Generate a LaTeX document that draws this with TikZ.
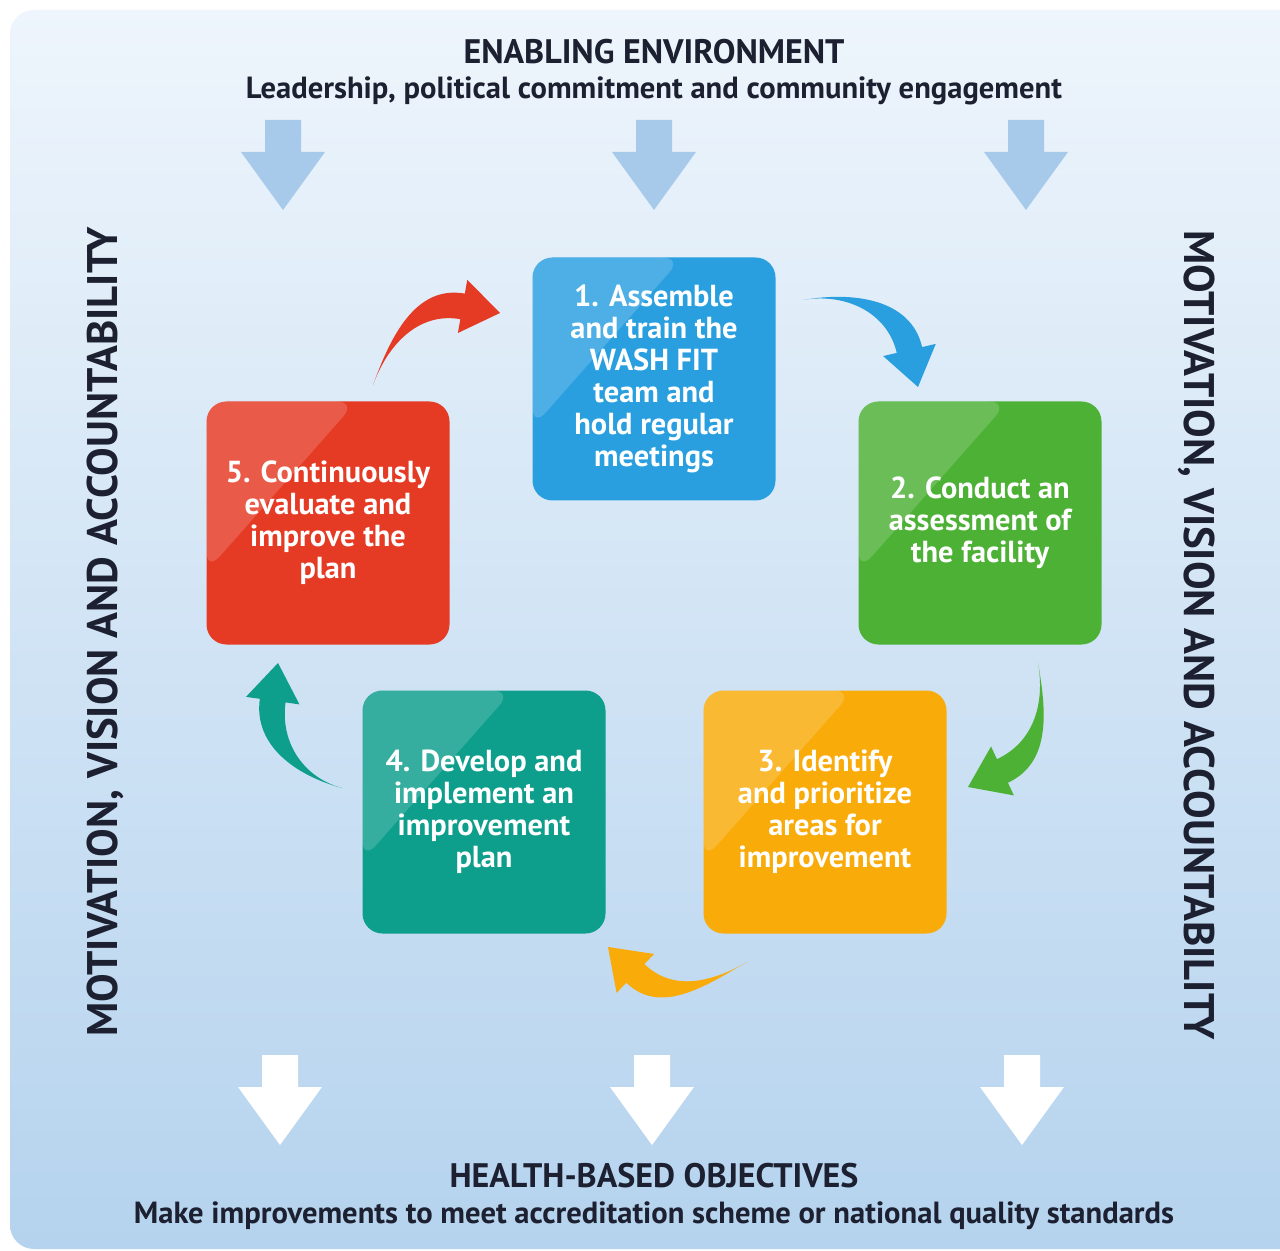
\documentclass[tikz,border=0pt]{standalone}
\usepackage{fontspec}
\setmainfont{PT Sans}
\usetikzlibrary{calc,positioning}

\definecolor{bgtop}{HTML}{EEF5FC}
\definecolor{bgbot}{HTML}{B5D3EE}
\definecolor{inArrow}{HTML}{A7CAEB}
\definecolor{darkText}{HTML}{1C2030}
\definecolor{stepBlue}{HTML}{2A9FE0}
\definecolor{stepGreen}{HTML}{4DB136}
\definecolor{stepOrange}{HTML}{F9AB09}
\definecolor{stepTeal}{HTML}{0E9E8C}
\definecolor{stepRed}{HTML}{E53A24}

\tikzset{
  stepbox/.style={rounded corners=10pt, minimum size=121.5pt, inner sep=0pt,
    align=center, text=white, font=\bfseries\fontsize{15.2}{16}\selectfont,
    path picture={\fill[white,opacity=0.17] (path picture bounding box.north west)
      -- ++(150,0) -- ++(-150,-170) -- cycle;}},
  headline/.style={text=darkText, font=\bfseries\fontsize{17}{20}\selectfont},
  subline/.style={text=darkText, font=\bfseries\fontsize{15.3}{18}\selectfont},
  sideline/.style={text=darkText, font=\bfseries\fontsize{21.4}{24}\selectfont}
}

% tapered curved arrow: colour, tail, out angle, head direction, tip
\newcommand{\cyclearrow}[5]{%
  \pgfmathsetmacro{\cyBack}{#4+180}
  \pgfmathsetmacro{\cyLeft}{#4+90}
  \pgfmathsetmacro{\cyRight}{#4-90}
  \fill[#1] (#2) to[out=#3,in=\cyBack] ($(#5)+(\cyBack:38)+(\cyLeft:13)$)
    -- ($(#5)+(\cyBack:38)+(\cyLeft:27)$) -- (#5)
    -- ($(#5)+(\cyBack:38)+(\cyRight:27)$)
    -- ($(#5)+(\cyBack:38)+(\cyRight:13)$)
    to[out=\cyBack,in=#3] (#2) -- cycle;}

\begin{document}
\begin{tikzpicture}[x=0.5pt,y=0.5pt]
\useasboundingbox (0,0) rectangle (1280,-1251);
\clip (0,0) rectangle (1280,-1251);
\fill[white] (0,0) rectangle (1280,-1251);
\shade[top color=bgtop, bottom color=bgbot, rounded corners=12pt] (10,-10) rectangle (1320,-1249);

% arrows in and out
\foreach \x in {283,654,1026}
  \fill[inArrow] (\x-18,-120) -- (\x+18,-120) -- (\x+18,-152) -- (\x+42,-152)
    -- (\x,-210) -- (\x-42,-152) -- (\x-18,-152) -- cycle;
\foreach \x in {280,652,1022}
  \fill[white] (\x-18,-1055) -- (\x+18,-1055) -- (\x+18,-1087) -- (\x+42,-1087)
    -- (\x,-1145) -- (\x-42,-1087) -- (\x-18,-1087) -- cycle;

\node (envTitle) at (654,-52) [headline] {ENABLING ENVIRONMENT};
\node (envSub) at (654,-91) [subline] {Leadership, political commitment and community engagement};
\node (hboTitle) at (654,-1176) [headline] {HEALTH-BASED OBJECTIVES};
\node (hboSub) at (654,-1216) [subline] {Make improvements to meet accreditation scheme or national quality standards};

\node (sideL) at (105,-632) [sideline, rotate=90] {MOTIVATION, VISION AND ACCOUNTABILITY};
\node (sideR) at (1197,-635) [sideline, rotate=-90] {MOTIVATION, VISION AND ACCOUNTABILITY};

% the five steps
\node (step1) at (654,-379) [stepbox, fill=stepBlue] {1. Assemble\\and train the\\WASH FIT\\team and\\hold regular\\meetings};
\node (step2) at (980,-523) [stepbox, fill=stepGreen] {2. Conduct an\\assessment of\\the facility};
\node (step3) at (825,-812) [stepbox, fill=stepOrange] {3. Identify\\and prioritize\\areas for\\improvement};
\node (step4) at (484,-812) [stepbox, fill=stepTeal] {4. Develop and\\implement an\\improvement\\plan};
\node (step5) at (328,-523) [stepbox, fill=stepRed] {5. Continuously\\evaluate and\\improve the\\plan};

% cycle arrows
\coordinate (t12) at (803,-300);   \coordinate (h12) at (918,-387);
\coordinate (t23) at (1038,-663);  \coordinate (h23) at (968,-787);
\coordinate (t34) at (747,-962);   \coordinate (h34) at (608,-947);
\coordinate (t45) at (342,-788);   \coordinate (h45) at (278,-663);
\coordinate (t51) at (373,-385);   \coordinate (h51) at (500,-313);

\cyclearrow{stepBlue}{t12}{10}{-77}{h12}
\cyclearrow{stepGreen}{t23}{-80}{-155}{h23}
\cyclearrow{stepOrange}{t34}{210}{136}{h34}
\cyclearrow{stepTeal}{t45}{165}{82}{h45}
\cyclearrow{stepRed}{t51}{70}{-10}{h51}

\end{tikzpicture}
\end{document}
